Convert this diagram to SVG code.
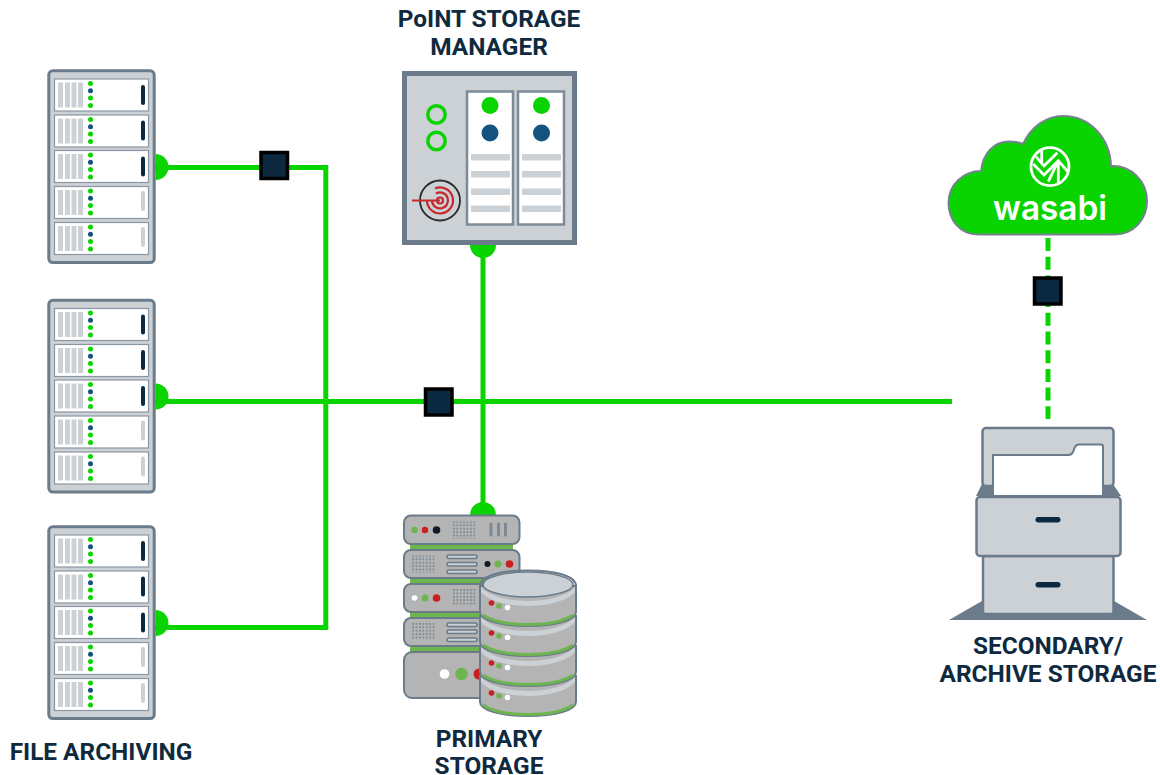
<svg xmlns="http://www.w3.org/2000/svg" xmlns:xlink="http://www.w3.org/1999/xlink" width="1160" height="775" viewBox="0 0 1160 775">
<style>
.lbl{font-family:Roboto,"Liberation Sans",sans-serif;font-weight:700;font-size:24.4px;fill:#0f2a40;text-anchor:middle}
.wire{fill:none;stroke:#0ad400;stroke-width:5}
.sq{fill:#0b2a42;stroke:#000;stroke-width:3.500}
.g{fill:#0ad400}.b{fill:#14527f}.st{fill:#ccd1d5}.e{stroke:#6b7b8a}
.ub{fill:#b4b4b4;stroke:#6b7b8a;stroke-width:2}
.r{fill:#c9201f}.gd{fill:#6cb54f}.w{fill:#fff}.k{fill:#111826}
.sg{fill:#6cb54f}
.slot{fill:#ccd1d5;stroke:#6b7b8a;stroke-width:1.6}
</style>
<defs>
<pattern id="dots" width="3.4" height="3.4" patternUnits="userSpaceOnUse"><circle cx="1.700" cy="1.700" r="1" fill="#7c8994"/></pattern>
<clipPath id="logo-clip"><circle cx="1050" cy="166.700" r="19"/></clipPath>
<g id="unit">
<rect x="54.5" y="0" width="94" height="32" fill="#fff" stroke="#8a97a2" stroke-width="1.2"/>
<rect x="58" y="3.5" width="5" height="25" class="st"/><rect x="65" y="3.5" width="5" height="25" class="st"/><rect x="71.500" y="3.500" width="5" height="25" class="st"/><rect x="78" y="3.500" width="5" height="25" class="st"/>
<circle cx="90.500" cy="4.500" r="2.500" class="g"/><circle cx="90.500" cy="11.700" r="2.500" class="b"/><circle cx="90.500" cy="19" r="2.500" class="g"/><circle cx="90.500" cy="26.500" r="2.500" class="g"/>
</g>
<g id="rack">
<rect x="48.800" y="70.800" width="105.400" height="191.700" rx="4" fill="#ccd1d5" stroke="#6b7b8a" stroke-width="3"/>
<use xlink:href="#unit" href="#unit" y="79"/><use xlink:href="#unit" href="#unit" y="115"/><use xlink:href="#unit" href="#unit" y="150.500"/><use xlink:href="#unit" href="#unit" y="186.500"/><use xlink:href="#unit" href="#unit" y="222.500"/>
<rect x="141" y="85" width="4" height="20" rx="2" fill="#0b2a42"/><rect x="141" y="120.500" width="4" height="20" rx="2" fill="#0b2a42"/><rect x="141" y="156.500" width="4" height="20" rx="2" fill="#0b2a42"/>
<rect x="141" y="191" width="4" height="20" rx="2" class="st"/><rect x="141" y="227" width="4" height="20" rx="2" class="st"/>
<path d="M155.500 154A13 13 0 0 1 155.500 180Z" class="g"/>
</g>
<g id="disc">
<path d="M480 586V612C480 620 500 626 528 626C556 626 576 620 576 612V586Z" class="ub"/>
<path d="M481 587C490 597 510 601 528 601C546 601 566 597 575 587V592C566 602 546 606 528 606C510 606 490 602 481 592Z" fill="#ccd1d5"/>
<path d="M483 615C492 621 508 624.500 528 624.500C548 624.500 564 621 573 615" fill="none" stroke="#6cb54f" stroke-width="3"/>
<circle cx="491.500" cy="603" r="2.800" class="r"/><circle cx="499" cy="606" r="2.800" class="gd"/><circle cx="507.500" cy="607.500" r="2.800" class="w"/>
</g>
</defs>

<g id="connectors">
<path class="wire" d="M155 167.500H325.800V627.500H155"/>
<path class="wire" d="M155 401.500H952"/>
<path class="wire" d="M483 245V515"/>
<path class="wire" stroke-dasharray="13 5.700" d="M1048 238V419"/>
<rect class="sq" x="261" y="152.500" width="26.500" height="26"/>
<rect class="sq" x="425.500" y="389" width="26.500" height="26"/>
<rect class="sq" x="1034.500" y="278" width="26.500" height="26"/>
</g>

<g id="file-archiving-1"><use xlink:href="#rack" href="#rack"/></g>
<g id="file-archiving-2"><use xlink:href="#rack" href="#rack" y="229.500"/></g>
<g id="file-archiving-3"><use xlink:href="#rack" href="#rack" y="456"/></g>
<text class="lbl" x="101" y="760">FILE ARCHIVING</text>

<g id="manager">
<path d="M470 245A13 13 0 0 0 496 245Z" class="g"/>
<rect x="404.500" y="73.500" width="170" height="169" fill="#ccd1d5" stroke="#6b7b8a" stroke-width="5"/>
<g fill="#fff" stroke="#7c8b97" stroke-width="2.500"><rect x="467" y="91.500" width="46" height="133"/><rect x="518" y="91.500" width="46" height="133"/></g>
<circle cx="490" cy="105.500" r="8.500" class="g"/><circle cx="541.500" cy="105.500" r="8.500" class="g"/>
<circle cx="490" cy="133" r="8.500" class="b"/><circle cx="541.500" cy="133" r="8.500" class="b"/>
<g class="st"><rect x="471" y="154" width="39" height="6.500"/><rect x="471" y="171" width="39" height="6.500"/><rect x="471" y="188.500" width="39" height="6.500"/><rect x="471" y="205.500" width="39" height="6.500"/><rect x="522" y="154" width="39" height="6.500"/><rect x="522" y="171" width="39" height="6.500"/><rect x="522" y="188.500" width="39" height="6.500"/><rect x="522" y="205.500" width="39" height="6.500"/></g>
<g fill="none" stroke="#0ad400" stroke-width="3.500"><circle cx="436.500" cy="114.500" r="8.700"/><circle cx="436.500" cy="141" r="8.700"/></g>
<circle cx="440" cy="200.500" r="20" fill="none" stroke="#2a2a2a" stroke-width="1.800"/>
<g fill="none" stroke="#c5282d" stroke-width="2.200"><circle cx="440" cy="200.500" r="3"/><path d="M436 193.500A8 8 0 1 1 432 200.500M435 188.500A13 13 0 1 1 427 200.500"/></g>
<path d="M412 200.500H440" stroke="#c5282d" stroke-width="2"/>
<text class="lbl" x="489" y="27">PoINT STORAGE</text>
<text class="lbl" x="489" y="55">MANAGER</text>
</g>

<g id="primary-storage">
<path d="M470 515A13 13 0 0 1 496 515Z" class="g"/>
<rect x="410" y="544" width="103" height="6" class="sg"/><rect x="410" y="578" width="103" height="6" class="sg"/><rect x="410" y="612" width="103" height="6" class="sg"/><rect x="410" y="646" width="103" height="6" class="sg"/>
<rect x="404" y="515.500" width="115.500" height="28.500" rx="7" class="ub"/>
<rect x="404" y="550" width="115.500" height="28" rx="7" class="ub"/>
<rect x="404" y="584" width="115.500" height="28" rx="7" class="ub"/>
<rect x="404" y="618" width="115.500" height="28" rx="7" class="ub"/>
<rect x="404" y="652" width="115.500" height="46" rx="8" class="ub"/>
<circle cx="414.500" cy="530" r="3.200" class="gd"/><circle cx="425" cy="530" r="3.200" class="r"/><circle cx="436.500" cy="530" r="3.800" class="k"/>
<g fill="url(#dots)"><rect x="452" y="521.500" width="24" height="17"/><rect x="412" y="555.500" width="24" height="17"/><rect x="452" y="589" width="24" height="17"/><rect x="412" y="623" width="24" height="17"/></g>
<path d="M491 524V535M498.500 524V535M505.500 524V535" stroke="#7c8994" stroke-width="3" stroke-linecap="round"/>
<rect x="447" y="555" width="30" height="3.500" rx="1.700" class="slot"/><rect x="447" y="562.500" width="30" height="3.500" rx="1.700" class="slot"/><rect x="447" y="570" width="30" height="3.500" rx="1.700" class="slot"/>
<rect x="447" y="623" width="30" height="3.500" rx="1.700" class="slot"/><rect x="447" y="630" width="30" height="3.500" rx="1.700" class="slot"/><rect x="447" y="638" width="30" height="3.500" rx="1.700" class="slot"/>
<circle cx="487.500" cy="564" r="3" class="k"/><circle cx="498" cy="564" r="3.500" class="gd"/><circle cx="509.500" cy="564" r="3.800" class="r"/>
<circle cx="414.500" cy="598" r="2.800" class="w"/><circle cx="425" cy="598" r="3.500" class="gd"/><circle cx="436.500" cy="598" r="3.800" class="r"/>
<circle cx="444.500" cy="674" r="4.800" class="w"/><circle cx="461.500" cy="674" r="6.200" class="gd"/><circle cx="479" cy="674" r="5.500" class="r"/>
<use xlink:href="#disc" href="#disc" y="90"/><use xlink:href="#disc" href="#disc" y="60"/><use xlink:href="#disc" href="#disc" y="30"/><use xlink:href="#disc" href="#disc"/>
<ellipse cx="528" cy="584.500" rx="45" ry="12.500" fill="#ccd1d5" stroke="#6b7b8a" stroke-width="1.500"/>
<path d="M480 586C480 576 500 570.500 528 570.500C556 570.500 576 576 576 586" fill="none" stroke="#6b7b8a" stroke-width="2"/>
<text class="lbl" x="489" y="746.500">PRIMARY</text>
<text class="lbl" x="489" y="773.500">STORAGE</text>
</g>

<g id="wasabi-cloud">
<path d="M978 234.500C960 234.500 948.500 220 948.500 203C948.500 185 963 171 981 171C983 153 994 142 1008 141.500C1014 141.500 1019 142 1023 144C1031 127 1046 116 1063 116C1090 116 1110 138 1111 166C1131 165 1147 181 1147 201C1147 220 1133 234.500 1115 234.500Z" fill="#0ad400" stroke="#77828f" stroke-width="2"/>
<circle cx="1050" cy="166.700" r="19" fill="none" stroke="#fff" stroke-width="2.800"/>
<g clip-path="url(#logo-clip)" fill="none" stroke="#fff" stroke-width="2.800"><path d="M1033.300 164L1044 175L1058.300 160.700L1069.300 173.300M1058.300 160.700L1048.300 181.700M1058.300 160.700V186M1036 156.700L1044 166L1057.300 152.700M1041.700 148V163"/></g>
<text x="1050" y="219.500" font-family="Inter,'Open Sans',sans-serif" font-weight="600" font-size="34" fill="#fff" text-anchor="middle" textLength="114" lengthAdjust="spacingAndGlyphs">wasabi</text>
</g>

<g id="secondary-storage">
<path d="M949 620L982 601H1114L1147 620Z" fill="#6b7b8a"/>
<path d="M982 484L976 496H1121L1113 484Z" fill="#6b7b8a"/>
<rect x="982.500" y="428" width="131" height="58" rx="3.500" class="st e" stroke-width="2.500"/>
<path d="M993 496V455H1068.500C1071 455 1072 454 1073 452L1075 447C1076 445 1077 444.500 1079 444.500H1101C1102.500 444.500 1103 445 1103 446.500V496Z" fill="#fff" stroke="#6b7b8a" stroke-width="2"/>
<rect x="983" y="556" width="130.500" height="58" rx="2.500" class="st e" stroke-width="2.500"/>
<rect x="976.500" y="497" width="144" height="59" rx="3.500" class="st e" stroke-width="2.500"/>
<rect x="1035.500" y="517" width="25" height="5.500" rx="2.700" fill="#0b2a42"/>
<rect x="1035.500" y="582" width="25" height="5.500" rx="2.700" fill="#0b2a42"/>
<text class="lbl" x="1048" y="654">SECONDARY/</text>
<text class="lbl" x="1048" y="682">ARCHIVE STORAGE</text>
</g>
</svg>
